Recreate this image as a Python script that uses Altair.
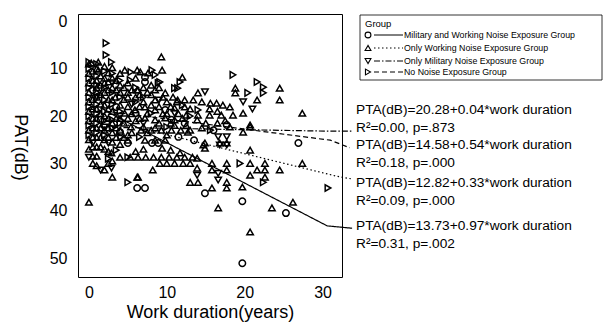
import altair as alt
import pandas as pd

FONT = "Liberation Sans"

groups = ["Military and Working Noise Exposure Group",
          "Only Working Noise Exposure Group",
          "Only Military Noise Exposure Group",
          "No Noise Exposure Group"]
shapes = ["circle", "triangle-up", "triangle-down", "triangle-right"]
dashes = [[1, 0], [1.5, 2.5], [6, 2, 1.5, 2], [5, 3]]

# (work duration, PTA) pairs
pts_mil_work = [(7.2, 11.8), (7.2, 12.8), (8.1, 25.7), (6.2, 35.2), (7.2, 35.2), (14.9, 36.3),
                (19.7, 38.0), (19.7, 51.1), (25.3, 40.5), (26.9, 25.7), (17.7, 21.9), (5.0, 25.7),
                (8.9, 25.7), (0.5, 14.5), (1.5, 20.8), (3.5, 18.1), (4.0, 23.4), (6.0, 19.4),
                (10.6, 20.8), (12.3, 21.5), (13.5, 25.1), (16.0, 23.0), (9.8, 18.7), (11.5, 24.4)]
pts_work = [(9.3, 7.5), (6.2, 10.3), (9.4, 10.3), (12.0, 11.8), (6.2, 14.5), (14.0, 15.1),
            (18.8, 14.1), (18.8, 15.1), (24.5, 14.1), (24.5, 16.6), (21.6, 16.6), (19.8, 19.4),
            (20.7, 22.3), (19.8, 23.4), (14.7, 26.1), (4.6, 10.3), (6.6, 10.7), (7.6, 10.9),
            (2.5, 12.8), (2.5, 10.9), (1.2, 10.3), (0.3, 8.8), (1.2, 8.6), (3.4, 16.0), (6.3, 14.5),
            (5.0, 16.0), (9.8, 15.1), (10.8, 16.0), (8.5, 16.6), (7.2, 18.1), (5.9, 18.7), (8.5, 18.7),
            (11.0, 18.3), (12.3, 18.1), (11.4, 16.6), (4.6, 19.4), (7.2, 20.4), (8.5, 20.8),
            (9.8, 20.4), (11.0, 20.8), (5.4, 22.3), (6.7, 23.0), (8.0, 23.0), (9.3, 23.0),
            (10.6, 23.0), (11.8, 23.0), (12.7, 23.4), (5.0, 25.1), (7.2, 25.1), (8.5, 25.1),
            (9.8, 25.1), (5.3, 28.7), (6.3, 28.7), (7.3, 28.7), (8.3, 28.7), (9.3, 28.7),
            (10.3, 28.7), (11.3, 28.7), (12.3, 28.7), (13.3, 28.7), (9.4, 26.8), (10.5, 27.2),
            (11.7, 27.8), (8.2, 31.4), (9.1, 30.0), (10.0, 30.0), (11.0, 30.0), (12.1, 30.0),
            (13.0, 30.0), (6.2, 32.9), (13.0, 34.0), (14.0, 34.0), (13.9, 28.9), (13.9, 31.0),
            (14.9, 26.8), (14.9, 25.7), (15.8, 35.2), (15.8, 30.0), (15.8, 31.4), (17.7, 30.0),
            (17.7, 31.4), (17.7, 34.0), (17.7, 35.2), (16.6, 39.4), (19.7, 35.0), (20.7, 30.0),
            (20.7, 32.5), (21.6, 31.4), (22.6, 30.0), (22.6, 31.4), (22.6, 32.9), (20.7, 27.2),
            (24.5, 31.4), (20.7, 44.5), (23.5, 39.4), (26.2, 38.2), (16.8, 25.7), (17.7, 25.7),
            (27.4, 19.4), (20.7, 21.9), (27.4, 30.0), (2.9, 27.8), (2.5, 30.0), (0.5, 30.0),
            (0.0, 38.2), (0.5, 28.5), (1.0, 28.5), (11.3, 17.0), (12.3, 16.6), (13.4, 16.6),
            (14.5, 17.0), (15.6, 17.3), (16.4, 17.3), (17.2, 17.7), (18.1, 18.1), (12.5, 19.8),
            (14.0, 19.8), (15.5, 19.8), (17.0, 19.8), (18.5, 19.8), (13.9, 20.8), (15.0, 21.5),
            (16.5, 21.5), (18.1, 22.3), (0.0, 9.0), (0.0, 11.0), (0.0, 13.0), (0.0, 15.0),
            (0.0, 17.0), (0.0, 19.0), (0.0, 21.0), (0.0, 23.0), (0.0, 25.0), (0.0, 27.0),
            (1.0, 10.0), (1.0, 12.5), (1.0, 14.0), (1.0, 16.0), (1.0, 18.5), (1.0, 20.5),
            (1.0, 22.5), (1.0, 24.5), (1.0, 26.5), (2.0, 9.5), (2.0, 12.0), (2.0, 13.0),
            (2.0, 15.0), (2.0, 17.7), (2.0, 20.0), (2.0, 23.0), (2.0, 25.0), (2.0, 27.0),
            (3.0, 9.8), (3.0, 12.0), (3.0, 14.0), (3.0, 16.6), (3.0, 19.0), (3.0, 21.5),
            (3.0, 23.5), (3.0, 25.5), (4.0, 11.0), (4.0, 13.5), (4.0, 15.0), (4.0, 17.7),
            (4.0, 20.5), (4.0, 23.0), (4.0, 26.0), (5.0, 13.0), (5.0, 15.0), (5.0, 18.0),
            (5.0, 20.5), (5.0, 24.0), (6.0, 12.0), (6.0, 16.0), (6.0, 21.0), (7.0, 14.0),
            (7.0, 17.0), (7.0, 22.3), (8.0, 13.5), (8.0, 15.5), (8.0, 17.7), (9.0, 14.0),
            (9.0, 18.0), (9.0, 21.5), (10.0, 17.0), (10.0, 19.5), (10.0, 24.0), (11.0, 22.0),
            (12.0, 20.5), (13.0, 23.0), (7.0, 27.0), (6.0, 27.5), (4.0, 28.7), (3.0, 29.5),
            (1.0, 30.5), (2.0, 31.4), (3.0, 32.9), (6.3, 32.9),
            (0.5, 10.5), (0.5, 12.5), (0.5, 16.5), (0.5, 18.5), (0.5, 20.5), (0.5, 22.5),
            (0.5, 24.5), (0.5, 26.5), (1.5, 11.5), (1.5, 13.5), (1.5, 15.5), (1.5, 17.5),
            (1.5, 19.5), (1.5, 22.5), (1.5, 24.5), (1.5, 26.5), (2.5, 14.5), (2.5, 16.5),
            (2.5, 18.5), (2.5, 20.5), (2.5, 22.5), (2.5, 24.5), (2.5, 27.5), (3.5, 12.5),
            (3.5, 14.5), (3.5, 20.5), (3.5, 22.5), (3.5, 24.5), (4.5, 14.0), (4.5, 16.5),
            (4.5, 21.5), (4.5, 24.5), (5.5, 14.5), (5.5, 19.5), (5.5, 23.5), (6.5, 15.5),
            (6.5, 18.0), (6.5, 20.5), (7.5, 15.0), (7.5, 19.5), (7.5, 23.5), (8.5, 14.5),
            (8.5, 22.5), (9.5, 16.0), (9.5, 19.5), (10.5, 18.0), (10.5, 21.5), (11.5, 19.5),
            (12.5, 22.0), (13.0, 18.5), (14.5, 22.5), (15.5, 18.5), (16.5, 19.0), (17.5, 21.0)]
pts_mil = [(14.9, 14.9), (16.6, 24.4), (17.7, 24.4), (16.8, 26.1), (17.7, 26.1), (13.9, 32.5),
           (16.6, 32.1), (16.6, 33.5), (0.5, 25.7), (2.5, 25.7), (2.9, 31.0), (1.5, 31.4),
           (1.0, 16.0), (2.0, 22.3), (3.0, 13.0), (4.0, 20.0), (0.0, 28.7), (5.5, 17.5),
           (7.0, 21.5), (9.0, 16.6), (11.0, 19.4), (19.8, 17.0), (21.0, 18.5)]
pts_none = [(2.2, 4.6), (2.2, 7.1), (2.9, 8.6), (0.0, 8.6), (5.4, 10.7), (8.5, 11.3), (9.1, 12.8),
            (8.1, 10.3), (5.3, 12.4), (8.9, 13.0), (11.7, 12.8), (11.0, 14.1), (11.4, 14.1),
            (18.5, 11.3), (21.6, 12.8), (22.4, 13.9), (22.4, 15.1), (20.4, 15.1), (15.6, 23.0),
            (4.1, 24.4), (19.4, 30.0), (22.4, 34.0), (30.7, 35.2), (5.0, 34.0), (5.0, 28.7),
            (0.0, 10.0), (0.0, 12.0), (0.0, 14.0), (0.0, 16.0), (0.0, 18.0), (0.0, 20.0),
            (0.0, 22.0), (0.0, 24.0), (1.0, 9.0), (1.0, 11.5), (1.0, 13.5), (1.0, 15.0),
            (1.0, 17.5), (1.0, 19.5), (1.0, 21.5), (1.0, 23.5), (2.0, 10.5), (2.0, 14.0),
            (2.0, 16.6), (2.0, 19.0), (2.0, 21.0), (2.0, 24.0), (3.0, 11.0), (3.0, 15.0),
            (3.0, 17.5), (3.0, 20.8), (3.0, 22.5), (4.0, 12.5), (4.0, 16.0), (4.0, 19.0),
            (4.0, 21.5), (6.0, 14.0), (6.0, 17.0), (7.0, 16.0), (8.0, 19.4), (10.0, 22.3),
            (12.0, 17.7), (13.0, 20.0), (14.0, 18.7), (6.5, 24.4), (3.5, 27.2), (2.5, 29.0)]

# regression lines (polyline, last point = leader to the label)
line_mil_work = [(2.0, 18.8), (30.6, 43.2), (33.8, 43.7)]
line_work = [(0.0, 19.9), (31.8, 32.7), (33.8, 33.3)]
line_mil = [(0.0, 22.3), (31.0, 23.2), (33.8, 23.2)]
line_none = [(0.0, 18.5), (31.0, 25.1), (33.5, 26.7)]

ann_text = ["PTA(dB)=20.28+0.04*work duration", "R\u00b2=0.00, p=.873",
            "PTA(dB)=14.58+0.54*work duration", "R\u00b2=0.18, p=.000",
            "PTA(dB)=12.82+0.33*work duration", "R\u00b2=0.09, p=.000",
            "PTA(dB)=13.73+0.97*work duration", "R\u00b2=0.31, p=.002"]
ann_y = [18.7, 22.5, 26.1, 29.9, 34.2, 37.9, 43.2, 47.1]
ann_x = 34.3

x_ticks = [0, 10, 20, 30]
y_ticks = [0, 10, 20, 30, 40, 50]

rows = []
for g, pts in zip(groups, [pts_mil_work, pts_work, pts_mil, pts_none]):
    for x, y in pts:
        rows.append({"x": x, "y": y, "group": g})
df_pts = pd.DataFrame(rows)

lrows = []
for g, pl in zip(groups, [line_mil_work, line_work, line_mil, line_none]):
    for i, (x, y) in enumerate(pl):
        lrows.append({"x": x, "y": y, "group": g, "order": i})
df_lines = pd.DataFrame(lrows)

df_ann = pd.DataFrame({"x": [ann_x] * len(ann_text), "y": ann_y, "text": ann_text})

xs = alt.Scale(domain=[-1.4, 32.5], nice=False, zero=False)
ys = alt.Scale(domain=[-1.56, 54.0], nice=False, zero=False, reverse=True)
shape_scale = alt.Scale(domain=groups, range=shapes)
dash_scale = alt.Scale(domain=groups, range=dashes)

xaxis = alt.Axis(values=x_ticks, grid=False, domain=False, ticks=False, labelFont=FONT,
                 labelFontSize=16, labelColor="black", labelPadding=7, titleFont=FONT,
                 titleFontSize=18, titleFontWeight="normal", titleColor="black", titlePadding=3)
yaxis = alt.Axis(values=y_ticks, grid=False, domain=False, ticks=False, labelFont=FONT,
                 labelFontSize=16, labelColor="black", labelPadding=11, titleFont=FONT,
                 titleFontSize=18, titleFontWeight="normal", titleColor="black",
                 titleAngle=90, titleBaseline="middle", titleX=-59, titleY=133)

points = alt.Chart(df_pts).mark_point(filled=False, color="black", strokeWidth=1.5, size=42,
                                      opacity=1, clip=False).encode(
    x=alt.X("x:Q", scale=xs, axis=xaxis, title="Work duration(years)"),
    y=alt.Y("y:Q", scale=ys, axis=yaxis, title="PAT(dB)"),
    shape=alt.Shape("group:N", scale=shape_scale, legend=None),
)

lines = alt.Chart(df_lines).mark_line(color="black", strokeWidth=1.2, clip=False).encode(
    x=alt.X("x:Q", scale=xs),
    y=alt.Y("y:Q", scale=ys),
    strokeDash=alt.StrokeDash("group:N", scale=dash_scale, legend=None),
    detail="group:N",
    order="order:Q",
)

ann = alt.Chart(df_ann).mark_text(align="left", baseline="middle", font=FONT, fontSize=13.7,
                                  color="black", clip=False).encode(
    x=alt.X("x:Q", scale=xs), y=alt.Y("y:Q", scale=ys), text="text:N")

# custom legend (pixel positions relative to plot origin)
leg_y = [21, 34, 47, 58]
df_leg = pd.DataFrame({"group": groups, "py": leg_y})
leg_box = alt.Chart(pd.DataFrame({"a": [0]})).mark_rect(fill="white", stroke="black",
                                                         strokeWidth=0.8).encode(
    x=alt.value(282), x2=alt.value(524), y=alt.value(1), y2=alt.value(66))
leg_title = alt.Chart(pd.DataFrame({"t": ["Group"]})).mark_text(
    align="left", baseline="middle", font=FONT, fontSize=9.5, color="black").encode(
    x=alt.value(287), y=alt.value(10), text="t:N")
leg_sym = alt.Chart(df_leg).mark_point(filled=False, color="black", strokeWidth=1.1, size=34,
                                       opacity=1).encode(
    x=alt.value(290), y=alt.Y("py:Q", scale=None),
    shape=alt.Shape("group:N", scale=shape_scale, legend=None))
leg_line = alt.Chart(df_leg).mark_rule(color="black", strokeWidth=1).encode(
    x=alt.value(296), x2=alt.value(325), y=alt.Y("py:Q", scale=None),
    strokeDash=alt.StrokeDash("group:N", scale=dash_scale, legend=None))
leg_text = alt.Chart(df_leg).mark_text(align="left", baseline="middle", font=FONT,
                                       fontSize=8.8, color="black").encode(
    x=alt.value(326), y=alt.Y("py:Q", scale=None), text="group:N")

chart = alt.layer(lines, points, ann, leg_box, leg_title, leg_line, leg_sym, leg_text).properties(
    width=264, height=263,
    autosize=alt.AutoSizeParams(type="none"),
    padding={"left": 78, "top": 14, "right": 269, "bottom": 46},
    background="white",
).configure_view(stroke="black", strokeWidth=1)

chart.save("out.html", embed_options={"renderer": "svg", "actions": False})
